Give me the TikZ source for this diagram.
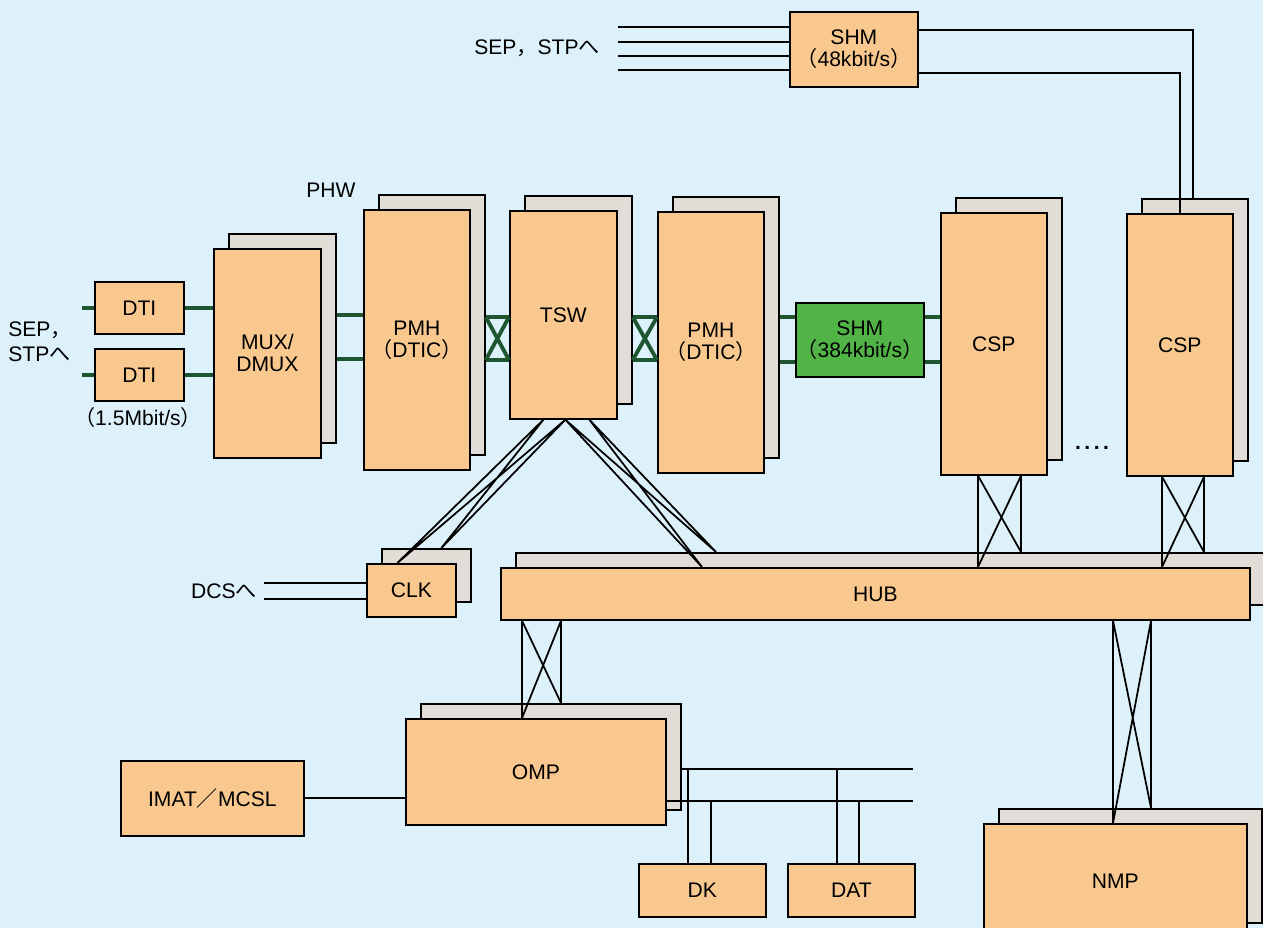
\documentclass[tikz,border=0pt]{standalone}
\usepackage{fontspec}
\setmainfont{Liberation Sans}
\newfontfamily\jp{Noto Sans CJK JP}
\usetikzlibrary{calc,positioning,shadows}
\definecolor{paper}{HTML}{DDF1FB}
\definecolor{peach}{HTML}{F8C88F}
\definecolor{backc}{HTML}{E2DCD6}
\definecolor{shmgreen}{HTML}{52B447}
\definecolor{hwgreen}{HTML}{1E5631}
\newcommand{\jlp}{{\jp （}}
\newcommand{\jrp}{{\jp ）}}
\tikzset{
 blk/.style={draw=black,line width=1pt,fill=peach,inner sep=0pt,anchor=north west,align=center,font=\fontsize{12}{12.5}\selectfont},
 dup/.style={blk,copy shadow={shadow xshift=.3cm,shadow yshift=.3cm,fill=backc,draw=black,line width=1pt}},
 lbl/.style={font=\fontsize{12}{14}\selectfont,align=left,inner sep=0pt},
 wire/.style={line width=1pt},
 hw/.style={hwgreen,line width=2.2pt},
}
\begin{document}
\begin{tikzpicture}[x=.02cm,y=-.02cm]
\fill[paper] (0,0) rectangle (1263,928);
\useasboundingbox (0,0) rectangle (1263,928);
\clip (0,0) rectangle (1263,928);
% shelves
\node[blk,minimum width=1.78cm,minimum height=1.04cm] (dtiA) at (94,281) {DTI};
\node[blk,minimum width=1.78cm,minimum height=1.04cm] (dtiB) at (94,348) {DTI};
\node[dup,minimum width=2.14cm,minimum height=4.18cm] (mux) at (213,248) {MUX/\\DMUX};
\node[dup,minimum width=2.12cm,minimum height=5.2cm] (pmhA) at (363,209) {PMH\\\jlp DTIC\jrp};
\node[dup,minimum width=2.14cm,minimum height=4.16cm] (tsw) at (509,210) {TSW};
\node[dup,minimum width=2.12cm,minimum height=5.22cm] (pmhB) at (657,211) {PMH\\\jlp DTIC\jrp};
\node[blk,fill=shmgreen,minimum width=2.56cm,minimum height=1.48cm] (shmB) at (795,302) {SHM\\\jlp 384kbit/s\jrp};
\node[dup,minimum width=2.12cm,minimum height=5.24cm] (cspA) at (940,212) {CSP};
\node[dup,minimum width=2.12cm,minimum height=5.24cm] (cspB) at (1126,213) {CSP};
\node[blk,minimum width=2.56cm,minimum height=1.5cm] (shmA) at (789,11) {SHM\\\jlp 48kbit/s\jrp};
\node[dup,minimum width=1.78cm,minimum height=1.06cm] (clk) at (366,563) {CLK};
\node[dup,minimum width=14.98cm,minimum height=1.04cm] (hub) at (500,567) {HUB};
\node[blk,minimum width=3.66cm,minimum height=1.5cm] (imat) at (120,760) {IMAT{\jp ／}MCSL};
\node[dup,minimum width=5.2cm,minimum height=2.12cm] (omp) at (405,718) {OMP};
\node[blk,minimum width=2.54cm,minimum height=1.06cm] (dk) at (638,863) {DK};
\node[blk,minimum width=2.54cm,minimum height=1.06cm] (dat) at (787,863) {DAT};
\node[dup,minimum width=5.26cm,minimum height=2.28cm] (nmp) at (983,823) {NMP};
% labels
\node[lbl,anchor=west] (sepL) at (8,342) {SEP{\jp ，}\\STP{\jp へ}};
\node[lbl] (rate) at (138,417) {\jlp 1.5Mbit/s\jrp};
\node[lbl] (phw) at (331,190) {PHW};
\node[lbl] (sepT) at (537,48) {SEP{\jp ，}STP{\jp へ}};
\node[lbl] (dcs) at (224,591) {DCS{\jp へ}};
\node[lbl] (dots) at (1092,448) {\textbf{.\hspace{2pt}.\hspace{2pt}.\hspace{2pt}.}};
% PHW (green)
\draw[hw] (dtiA.west) -- ++(-12,0);
\draw[hw] (dtiB.west) -- ++(-12,0);
\draw[hw] (dtiA.east) -- (mux.west |- dtiA.east);
\draw[hw] (dtiB.east) -- (mux.west |- dtiB.east);
\foreach \y in {315,359}
 \draw[hw] ([xshift=.3cm]mux.east |- 0,\y) -- (pmhA.west |- 0,\y);
\foreach \l/\r in {pmhA/tsw,tsw/pmhB}{
 \draw[hw] ([xshift=.3cm]\l.east |- 0,317) -- (\r.west |- 0,317);
 \draw[hw] ([xshift=.3cm]\l.east |- 0,360) -- (\r.west |- 0,360);
 \draw[hw] ([xshift=.3cm]\l.east |- 0,360) -- (\r.west |- 0,317);
 \draw[hw] ([xshift=.3cm]\l.east |- 0,317) -- (\r.west |- 0,360);
}
\foreach \y in {317,362}{
 \draw[hw] ([xshift=.3cm]pmhB.east |- 0,\y) -- (shmB.west |- 0,\y);
 \draw[hw] (shmB.east |- 0,\y) -- (cspA.west |- 0,\y);
}
% signalling and clock
\foreach \y in {27,42,56,70}
 \draw[wire] ([xshift=.36cm]sepT.east |- 0,\y) -- (shmA.west |- 0,\y);
\draw[wire] (shmA.east |- 0,30) -| ([yshift=.3cm]cspB.north -| 1193,0);
\draw[wire] (shmA.east |- 0,73) -| (cspB.north -| 1180,0);
\foreach \y in {583,599}
 \draw[wire] ([xshift=.14cm]dcs.east |- 0,\y) -- (clk.west |- 0,\y);
\coordinate (tA) at ($(tsw.south)+(-20,0)$);
\coordinate (tB) at ($(tsw.south)+(2,0)$);
\coordinate (tC) at ($(tsw.south)+(26,0)$);
\draw[wire] (tA) -- ($(clk.north)+(-14,0)$) (tB) -- ($(clk.north)+(30,-15)$)
 (tA) -- ($(clk.north)+(30,-15)$) (tB) -- ($(clk.north)+(-14,0)$);
\draw[wire] (tB) -- ($(hub.north west)+(202,0)$) (tC) -- ($(hub.north west)+(216,-15)$)
 (tB) -- ($(hub.north west)+(216,-15)$) (tC) -- ($(hub.north west)+(202,0)$);
% duplicated links
\foreach \up/\a/\b/\dn in {cspA/978/1021/hub,cspB/1162/1204/hub,hub/522/561/omp,hub/1113/1151/nmp}
 \draw[wire] (\up.south -| \a,0) -- (\dn.north -| \a,0)
  (\up.south -| \b,0) -- ([yshift=.3cm]\dn.north -| \b,0)
  (\up.south -| \a,0) -- ([yshift=.3cm]\dn.north -| \b,0)
  (\up.south -| \b,0) -- (\dn.north -| \a,0);
% OMP bus
\draw[wire] (imat.east) -- (omp.west |- imat.east);
\coordinate (busU) at (913,769);
\coordinate (busL) at (913,801);
\draw[wire] ([xshift=.3cm]omp.east |- busU) -- (busU);
\draw[wire] (omp.east |- busL) -- (busL);
\foreach \x/\b/\t in {688/busU/dk,711/busL/dk,837/busU/dat,859/busL/dat}
 \draw[wire] (\x,0 |- \b) -- (\t.north -| \x,0);
\end{tikzpicture}
\end{document}
